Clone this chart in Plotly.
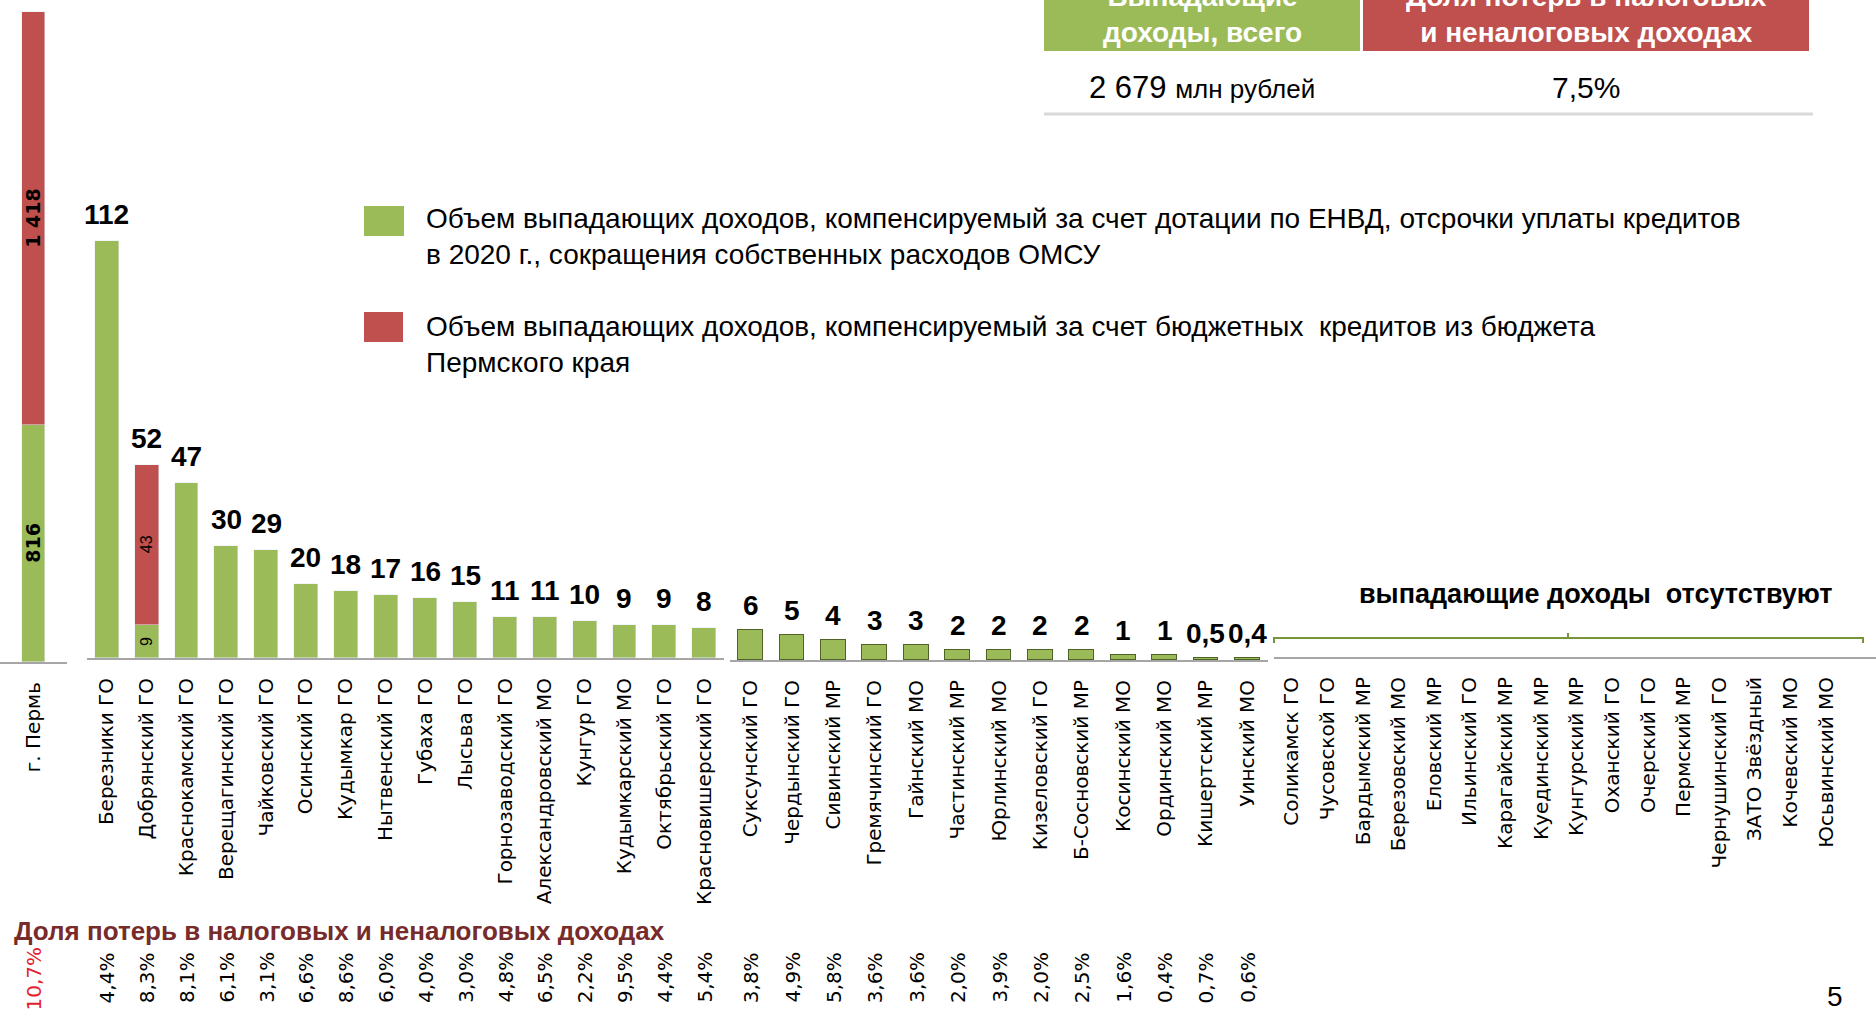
import plotly.graph_objects as go

W, H = 1876, 1012

# ---------------- data ----------------
perm_name = ["г. Пермь"]
perm_green = [816]
perm_red = [1418]
perm_share = ["10,7%"]

g1_names = ["Березники ГО", "Добрянский ГО", "Краснокамский ГО", "Верещагинский ГО",
            "Чайковский ГО", "Осинский ГО", "Кудымкар ГО", "Нытвенский ГО", "Губаха ГО",
            "Лысьва ГО", "Горнозаводский ГО", "Александровский МО", "Кунгур ГО",
            "Кудымкарский МО", "Октябрьский ГО", "Красновишерский ГО"]
g1_green = [112, 9, 47, 30, 29, 20, 18, 17, 16, 15, 11, 11, 10, 9, 9, 8]
g1_red = [0, 43, 0, 0, 0, 0, 0, 0, 0, 0, 0, 0, 0, 0, 0, 0]
g1_share = ["4,4%", "8,3%", "8,1%", "6,1%", "3,1%", "6,6%", "8,6%", "6,0%", "4,0%",
            "3,0%", "4,8%", "6,5%", "2,2%", "9,5%", "4,4%", "5,4%"]

g2_names = ["Суксунский ГО", "Чердынский ГО", "Сивинский МР", "Гремячинский ГО",
            "Гайнский МО", "Частинский МР", "Юрлинский МО", "Кизеловский ГО",
            "Б-Сосновский МР", "Косинский МО", "Ординский МО", "Кишертский МР", "Уинский МО"]
g2_values = [6, 5, 4, 3, 3, 2, 2, 2, 2, 1, 1, 0.5, 0.4]
g2_share = ["3,8%", "4,9%", "5,8%", "3,6%", "3,6%", "2,0%", "3,9%", "2,0%", "2,5%",
            "1,6%", "0,4%", "0,7%", "0,6%"]

g3_names = ["Соликамск ГО", "Чусовской ГО", "Бардымский МР", "Березовский МО",
            "Еловский МР", "Ильинский ГО", "Карагайский МР", "Куединский МР",
            "Кунгурский МР", "Оханский ГО", "Очерский ГО", "Пермский МР",
            "Чернушинский ГО", "ЗАТО Звёздный", "Кочевский МО", "Юсьвинский МО"]
g3_values = [0] * len(g3_names)

total_income = "2 679"
total_share = "7,5%"

GREEN = "#9bbb59"
RED = "#c0504d"
DARKGREEN = "#4f6228"
AXIS = "#a6a6a6"
FONT = "DejaVu Sans"
NFONT = "Liberation Sans, Arial"


def px(x):
    return x / W


def py(y):
    return 1 - y / H


def fmt(v):
    return (f"{v:g}").replace(".", ",")


fig = go.Figure()

# Perm
fig.add_bar(x=perm_name, y=perm_green, marker_color=GREEN, width=0.33,
            xaxis="x", yaxis="y", showlegend=False)
fig.add_bar(x=perm_name, y=perm_red, marker_color=RED, width=0.33,
            xaxis="x", yaxis="y", showlegend=False)
# group 1
fig.add_bar(x=g1_names, y=g1_green, marker_color=GREEN, width=0.6,
            xaxis="x2", yaxis="y2", showlegend=False)
fig.add_bar(x=g1_names, y=[r if r else None for r in g1_red], marker_color=RED, width=0.6,
            xaxis="x2", yaxis="y2", showlegend=False)
# group 2
fig.add_bar(x=g2_names, y=g2_values, marker_color=GREEN, width=0.6,
            marker_line_color=DARKGREEN, marker_line_width=1.5,
            xaxis="x3", yaxis="y3", showlegend=False)
# group 3 (no losses)
fig.add_bar(x=g3_names, y=g3_values, marker_color=GREEN, marker_line_width=0,
            xaxis="x4", yaxis="y4", showlegend=False)

xcommon = dict(type="category", showline=True, linecolor=AXIS, linewidth=2,
               ticks="", tickangle=-90, showgrid=False, zeroline=False,
               tickfont=dict(family=FONT, size=20, color="black"),
               ticklabelstandoff=10, fixedrange=True)
ycommon = dict(visible=False, showgrid=False, zeroline=False, fixedrange=True)

fig.update_layout(
    width=W, height=H,
    margin=dict(l=0, r=0, t=0, b=0),
    paper_bgcolor="white", plot_bgcolor="rgba(0,0,0,0)",
    barmode="stack", bargap=0,
    xaxis=dict(xcommon, domain=[0, px(67)], anchor="y", range=[-0.5, 0.5]),
    yaxis=dict(ycommon, domain=[py(662), 1], anchor="x", range=[0, 2234 * 662 / 650]),
    xaxis2=dict(xcommon, domain=[px(87), px(724)], anchor="y2", range=[-0.5, 15.5]),
    yaxis2=dict(ycommon, domain=[py(658), 1], anchor="x2", range=[0, 658 / 3.72]),
    xaxis3=dict(xcommon, domain=[px(730), px(1268)], anchor="y3", range=[-0.5, 12.5]),
    yaxis3=dict(ycommon, domain=[py(660), 1], anchor="x3", range=[0, 660 / 5.0]),
    xaxis4=dict(xcommon, domain=[px(1274), 1], anchor="y4", range=[-0.5, 16.4]),
    yaxis4=dict(ycommon, domain=[py(657), 1], anchor="x4", range=[0, 1]),
)

ann = []

# value labels above bars
for n, g, r in zip(g1_names, g1_green, g1_red):
    ann.append(dict(x=n, y=g + r, xref="x2", yref="y2", text=f"<b>{fmt(g + r)}</b>",
                    showarrow=False, xanchor="center", yanchor="bottom", yshift=9,
                    font=dict(family=NFONT, size=28, color="black")))
for n, v in zip(g2_names, g2_values):
    ann.append(dict(x=n, y=v, xref="x3", yref="y3", text=f"<b>{fmt(v)}</b>",
                    showarrow=False, xanchor="center", yanchor="bottom", yshift=7,
                    font=dict(family=NFONT, size=28, color="black")))

# inside labels
ann.append(dict(x=perm_name[0], y=perm_green[0] / 2, xref="x", yref="y",
                text=f"<b>{perm_green[0]}</b>", textangle=-90, showarrow=False,
                xanchor="center", yanchor="middle",
                font=dict(family=FONT, size=19, color="black")))
ann.append(dict(x=perm_name[0], y=perm_green[0] + perm_red[0] / 2, xref="x", yref="y",
                text=f"<b>{perm_red[0] // 1000} {perm_red[0] % 1000:03d}</b>", textangle=-90,
                xanchor="center", yanchor="middle",
                showarrow=False, font=dict(family=FONT, size=19, color="black")))
for n, g, r in zip(g1_names, g1_green, g1_red):
    if r:
        ann.append(dict(x=n, y=g / 2, xref="x2", yref="y2", text=str(g), textangle=-90,
                        xanchor="center", yanchor="middle",
                        showarrow=False, font=dict(family=NFONT, size=16, color="black")))
        ann.append(dict(x=n, y=g + r / 2, xref="x2", yref="y2", text=str(r), textangle=-90,
                        xanchor="center", yanchor="middle",
                        showarrow=False, font=dict(family=NFONT, size=16, color="black")))

# share row
ptop = py(950)
ann.append(dict(x=perm_name[0], y=py(945), xref="x", yref="paper", text=perm_share[0],
                textangle=-90, showarrow=False, xanchor="center", yanchor="top",
                font=dict(family=FONT, size=20, color="#e3212a")))
for n, s in zip(g1_names, g1_share):
    ann.append(dict(x=n, y=ptop, xref="x2", yref="paper", text=s, textangle=-90,
                    showarrow=False, xanchor="center", yanchor="top",
                    font=dict(family=FONT, size=20, color="black")))
for n, s in zip(g2_names, g2_share):
    ann.append(dict(x=n, y=ptop, xref="x3", yref="paper", text=s, textangle=-90,
                    showarrow=False, xanchor="center", yanchor="top",
                    font=dict(family=FONT, size=20, color="black")))

ann.append(dict(x=px(12), y=py(931), xref="paper", yref="paper", xanchor="left",
                yanchor="middle",
                text="<b>Доля потерь в налоговых и неналоговых доходах</b>", showarrow=False,
                font=dict(family=NFONT, size=26, color="#772b2b")))

# "no losses" note
ann.append(dict(x=px(1595), y=py(594), xref="paper", yref="paper",
                xanchor="center", yanchor="middle",
                text="<b>выпадающие доходы  отсутствуют</b>", showarrow=False,
                font=dict(family=NFONT, size=27, color="black")))

# legend texts
ann.append(dict(x=px(424), y=py(236), xref="paper", yref="paper", xanchor="left",
                yanchor="middle", align="left", showarrow=False,
                text="Объем выпадающих доходов, компенсируемый за счет дотации по ЕНВД, отсрочки уплаты кредитов<br>в 2020 г., сокращения собственных расходов ОМСУ",
                font=dict(family=NFONT, size=28, color="black")))
ann.append(dict(x=px(424), y=py(344), xref="paper", yref="paper", xanchor="left",
                yanchor="middle", align="left", showarrow=False,
                text="Объем выпадающих доходов, компенсируемый за счет бюджетных  кредитов из бюджета<br>Пермского края",
                font=dict(family=NFONT, size=28, color="black")))

# header table
ann.append(dict(x=px(1202), y=py(50), xref="paper", yref="paper",
                xanchor="center", yanchor="bottom",
                text="<b>Выпадающие<br>доходы, всего</b>", showarrow=False,
                font=dict(family=NFONT, size=28, color="white")))
ann.append(dict(x=px(1586), y=py(50), xref="paper", yref="paper",
                xanchor="center", yanchor="bottom",
                text="<b>Доля потерь в налоговых<br>и неналоговых доходах</b>", showarrow=False,
                font=dict(family=NFONT, size=28, color="white")))
ann.append(dict(x=px(1202), y=py(87), xref="paper", yref="paper",
                xanchor="center", yanchor="middle",
                text=f"{total_income} <span style='font-size:26px'>млн рублей</span>",
                showarrow=False, font=dict(family=NFONT, size=31, color="black")))
ann.append(dict(x=px(1586), y=py(87), xref="paper", yref="paper", text=total_share,
                xanchor="center", yanchor="middle",
                showarrow=False, font=dict(family=NFONT, size=30, color="black")))

# page number
ann.append(dict(x=px(1835), y=py(996), xref="paper", yref="paper", text="5",
                xanchor="center", yanchor="middle",
                showarrow=False, font=dict(family=NFONT, size=28, color="black")))

shapes = [
    dict(type="rect", xref="paper", yref="paper", x0=px(1044), x1=px(1360), y0=py(51), y1=1.01,
         fillcolor=GREEN, line_width=0),
    dict(type="rect", xref="paper", yref="paper", x0=px(1363), x1=px(1809), y0=py(51), y1=1.01,
         fillcolor=RED, line_width=0),
    dict(type="line", xref="paper", yref="paper", x0=px(1044), x1=px(1813), y0=py(114), y1=py(114),
         line=dict(color="#d9d9d9", width=3)),
    dict(type="rect", xref="paper", yref="paper", x0=px(364), x1=px(404), y0=py(236), y1=py(206),
         fillcolor=GREEN, line_width=0),
    dict(type="rect", xref="paper", yref="paper", x0=px(364), x1=px(403), y0=py(342), y1=py(312),
         fillcolor=RED, line_width=0),
    dict(type="path", xref="paper", yref="paper",
         path=f"M {px(1274)},{py(643)} L {px(1274)},{py(638)} L {px(1863)},{py(638)} L {px(1863)},{py(643)}",
         line=dict(color="#77933c", width=2)),
    dict(type="line", xref="paper", yref="paper", x0=px(1568), x1=px(1568), y0=py(638), y1=py(633),
         line=dict(color="#77933c", width=2)),
]

fig.update_layout(annotations=ann, shapes=shapes)
fig.write_html("out.html", config={"displayModeBar": False},
               post_script="document.body.style.margin='0';")
